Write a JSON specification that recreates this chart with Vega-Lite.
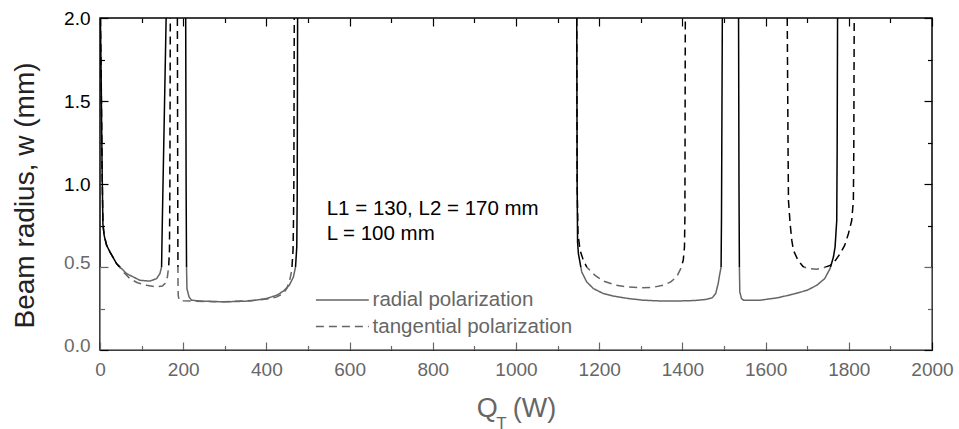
{
  "$schema": "https://vega.github.io/schema/vega-lite/v6.json",
  "width": 832,
  "height": 332,
  "autosize": "none",
  "padding": {"left": 100, "top": 18, "right": 27, "bottom": 79},
  "background": "white",
  "config": {"view": {"stroke": "#000", "strokeWidth": 1.5}, "font": "Liberation Sans"},
  "datasets": {
    "curves": [
      {"pol": "radial polarization", "seg": 1, "q": 1, "w": 2.0},
      {"pol": "radial polarization", "seg": 1, "q": 3, "w": 1.6},
      {"pol": "radial polarization", "seg": 1, "q": 5, "w": 1.1},
      {"pol": "radial polarization", "seg": 1, "q": 7, "w": 0.76},
      {"pol": "radial polarization", "seg": 1, "q": 10, "w": 0.69},
      {"pol": "radial polarization", "seg": 1, "q": 16, "w": 0.63},
      {"pol": "radial polarization", "seg": 1, "q": 24, "w": 0.59},
      {"pol": "radial polarization", "seg": 1, "q": 40, "w": 0.52},
      {"pol": "radial polarization", "seg": 1, "q": 64, "w": 0.46},
      {"pol": "radial polarization", "seg": 1, "q": 96, "w": 0.42},
      {"pol": "radial polarization", "seg": 1, "q": 120, "w": 0.415},
      {"pol": "radial polarization", "seg": 1, "q": 136, "w": 0.43},
      {"pol": "radial polarization", "seg": 1, "q": 144, "w": 0.46},
      {"pol": "radial polarization", "seg": 1, "q": 148, "w": 0.5},
      {"pol": "radial polarization", "seg": 1, "q": 150, "w": 0.8},
      {"pol": "radial polarization", "seg": 1, "q": 153, "w": 1.2},
      {"pol": "radial polarization", "seg": 1, "q": 156, "w": 1.6},
      {"pol": "radial polarization", "seg": 1, "q": 159, "w": 2.0},
      {"pol": "radial polarization", "seg": 2, "q": 206, "w": 2.0},
      {"pol": "radial polarization", "seg": 2, "q": 207, "w": 1.0},
      {"pol": "radial polarization", "seg": 2, "q": 208, "w": 0.5},
      {"pol": "radial polarization", "seg": 2, "q": 209, "w": 0.37},
      {"pol": "radial polarization", "seg": 2, "q": 214, "w": 0.32},
      {"pol": "radial polarization", "seg": 2, "q": 220, "w": 0.3},
      {"pol": "radial polarization", "seg": 2, "q": 240, "w": 0.295},
      {"pol": "radial polarization", "seg": 2, "q": 300, "w": 0.29},
      {"pol": "radial polarization", "seg": 2, "q": 360, "w": 0.295},
      {"pol": "radial polarization", "seg": 2, "q": 400, "w": 0.31},
      {"pol": "radial polarization", "seg": 2, "q": 425, "w": 0.33},
      {"pol": "radial polarization", "seg": 2, "q": 441, "w": 0.355},
      {"pol": "radial polarization", "seg": 2, "q": 455, "w": 0.39},
      {"pol": "radial polarization", "seg": 2, "q": 465, "w": 0.44},
      {"pol": "radial polarization", "seg": 2, "q": 470, "w": 0.5},
      {"pol": "radial polarization", "seg": 2, "q": 473, "w": 0.62},
      {"pol": "radial polarization", "seg": 2, "q": 474, "w": 0.9},
      {"pol": "radial polarization", "seg": 2, "q": 475, "w": 2.0},
      {"pol": "radial polarization", "seg": 3, "q": 1146, "w": 2.0},
      {"pol": "radial polarization", "seg": 3, "q": 1147, "w": 1.0},
      {"pol": "radial polarization", "seg": 3, "q": 1148, "w": 0.65},
      {"pol": "radial polarization", "seg": 3, "q": 1150, "w": 0.58},
      {"pol": "radial polarization", "seg": 3, "q": 1158, "w": 0.47},
      {"pol": "radial polarization", "seg": 3, "q": 1170, "w": 0.41},
      {"pol": "radial polarization", "seg": 3, "q": 1186, "w": 0.37},
      {"pol": "radial polarization", "seg": 3, "q": 1210, "w": 0.34},
      {"pol": "radial polarization", "seg": 3, "q": 1234, "w": 0.325},
      {"pol": "radial polarization", "seg": 3, "q": 1270, "w": 0.31},
      {"pol": "radial polarization", "seg": 3, "q": 1306, "w": 0.3},
      {"pol": "radial polarization", "seg": 3, "q": 1350, "w": 0.295},
      {"pol": "radial polarization", "seg": 3, "q": 1387, "w": 0.295},
      {"pol": "radial polarization", "seg": 3, "q": 1430, "w": 0.298},
      {"pol": "radial polarization", "seg": 3, "q": 1458, "w": 0.305},
      {"pol": "radial polarization", "seg": 3, "q": 1472, "w": 0.315},
      {"pol": "radial polarization", "seg": 3, "q": 1480, "w": 0.34},
      {"pol": "radial polarization", "seg": 3, "q": 1486, "w": 0.4},
      {"pol": "radial polarization", "seg": 3, "q": 1490, "w": 0.46},
      {"pol": "radial polarization", "seg": 3, "q": 1493, "w": 0.5},
      {"pol": "radial polarization", "seg": 3, "q": 1494, "w": 0.8},
      {"pol": "radial polarization", "seg": 3, "q": 1496, "w": 2.0},
      {"pol": "radial polarization", "seg": 4, "q": 1535, "w": 2.0},
      {"pol": "radial polarization", "seg": 4, "q": 1536, "w": 1.0},
      {"pol": "radial polarization", "seg": 4, "q": 1537, "w": 0.5},
      {"pol": "radial polarization", "seg": 4, "q": 1538, "w": 0.35},
      {"pol": "radial polarization", "seg": 4, "q": 1542, "w": 0.31},
      {"pol": "radial polarization", "seg": 4, "q": 1547, "w": 0.3},
      {"pol": "radial polarization", "seg": 4, "q": 1587, "w": 0.3},
      {"pol": "radial polarization", "seg": 4, "q": 1630, "w": 0.315},
      {"pol": "radial polarization", "seg": 4, "q": 1667, "w": 0.337},
      {"pol": "radial polarization", "seg": 4, "q": 1700, "w": 0.36},
      {"pol": "radial polarization", "seg": 4, "q": 1723, "w": 0.39},
      {"pol": "radial polarization", "seg": 4, "q": 1742, "w": 0.43},
      {"pol": "radial polarization", "seg": 4, "q": 1755, "w": 0.49},
      {"pol": "radial polarization", "seg": 4, "q": 1763, "w": 0.56},
      {"pol": "radial polarization", "seg": 4, "q": 1767, "w": 0.62},
      {"pol": "radial polarization", "seg": 4, "q": 1771, "w": 0.78},
      {"pol": "radial polarization", "seg": 4, "q": 1772, "w": 1.2},
      {"pol": "radial polarization", "seg": 4, "q": 1773, "w": 2.0},
      {"pol": "tangential polarization", "seg": 1, "q": 1, "w": 2.0},
      {"pol": "tangential polarization", "seg": 1, "q": 3, "w": 1.6},
      {"pol": "tangential polarization", "seg": 1, "q": 5, "w": 1.1},
      {"pol": "tangential polarization", "seg": 1, "q": 7, "w": 0.76},
      {"pol": "tangential polarization", "seg": 1, "q": 10, "w": 0.69},
      {"pol": "tangential polarization", "seg": 1, "q": 16, "w": 0.63},
      {"pol": "tangential polarization", "seg": 1, "q": 24, "w": 0.59},
      {"pol": "tangential polarization", "seg": 1, "q": 40, "w": 0.52},
      {"pol": "tangential polarization", "seg": 1, "q": 56, "w": 0.47},
      {"pol": "tangential polarization", "seg": 1, "q": 72, "w": 0.43},
      {"pol": "tangential polarization", "seg": 1, "q": 90, "w": 0.405},
      {"pol": "tangential polarization", "seg": 1, "q": 112, "w": 0.39},
      {"pol": "tangential polarization", "seg": 1, "q": 136, "w": 0.38},
      {"pol": "tangential polarization", "seg": 1, "q": 150, "w": 0.385},
      {"pol": "tangential polarization", "seg": 1, "q": 156, "w": 0.4},
      {"pol": "tangential polarization", "seg": 1, "q": 162, "w": 0.44},
      {"pol": "tangential polarization", "seg": 1, "q": 165, "w": 0.5},
      {"pol": "tangential polarization", "seg": 1, "q": 167, "w": 0.6},
      {"pol": "tangential polarization", "seg": 1, "q": 168, "w": 1.0},
      {"pol": "tangential polarization", "seg": 1, "q": 169, "w": 2.0},
      {"pol": "tangential polarization", "seg": 2, "q": 186, "w": 2.0},
      {"pol": "tangential polarization", "seg": 2, "q": 187, "w": 0.8},
      {"pol": "tangential polarization", "seg": 2, "q": 187.5, "w": 0.4},
      {"pol": "tangential polarization", "seg": 2, "q": 188, "w": 0.33},
      {"pol": "tangential polarization", "seg": 2, "q": 190, "w": 0.3},
      {"pol": "tangential polarization", "seg": 2, "q": 200, "w": 0.297},
      {"pol": "tangential polarization", "seg": 2, "q": 230, "w": 0.293},
      {"pol": "tangential polarization", "seg": 2, "q": 300, "w": 0.29},
      {"pol": "tangential polarization", "seg": 2, "q": 380, "w": 0.3},
      {"pol": "tangential polarization", "seg": 2, "q": 410, "w": 0.31},
      {"pol": "tangential polarization", "seg": 2, "q": 425, "w": 0.32},
      {"pol": "tangential polarization", "seg": 2, "q": 440, "w": 0.34},
      {"pol": "tangential polarization", "seg": 2, "q": 449, "w": 0.37},
      {"pol": "tangential polarization", "seg": 2, "q": 456, "w": 0.42},
      {"pol": "tangential polarization", "seg": 2, "q": 461, "w": 0.48},
      {"pol": "tangential polarization", "seg": 2, "q": 464, "w": 0.6},
      {"pol": "tangential polarization", "seg": 2, "q": 465, "w": 0.75},
      {"pol": "tangential polarization", "seg": 2, "q": 466, "w": 1.0},
      {"pol": "tangential polarization", "seg": 2, "q": 467, "w": 2.0},
      {"pol": "tangential polarization", "seg": 3, "q": 1146, "w": 2.0},
      {"pol": "tangential polarization", "seg": 3, "q": 1147, "w": 1.0},
      {"pol": "tangential polarization", "seg": 3, "q": 1149, "w": 0.7},
      {"pol": "tangential polarization", "seg": 3, "q": 1154, "w": 0.6},
      {"pol": "tangential polarization", "seg": 3, "q": 1162, "w": 0.54},
      {"pol": "tangential polarization", "seg": 3, "q": 1170, "w": 0.5},
      {"pol": "tangential polarization", "seg": 3, "q": 1190, "w": 0.45},
      {"pol": "tangential polarization", "seg": 3, "q": 1210, "w": 0.415},
      {"pol": "tangential polarization", "seg": 3, "q": 1240, "w": 0.39},
      {"pol": "tangential polarization", "seg": 3, "q": 1266, "w": 0.38},
      {"pol": "tangential polarization", "seg": 3, "q": 1300, "w": 0.375},
      {"pol": "tangential polarization", "seg": 3, "q": 1330, "w": 0.378},
      {"pol": "tangential polarization", "seg": 3, "q": 1354, "w": 0.39},
      {"pol": "tangential polarization", "seg": 3, "q": 1372, "w": 0.41},
      {"pol": "tangential polarization", "seg": 3, "q": 1386, "w": 0.44},
      {"pol": "tangential polarization", "seg": 3, "q": 1396, "w": 0.49},
      {"pol": "tangential polarization", "seg": 3, "q": 1402, "w": 0.54},
      {"pol": "tangential polarization", "seg": 3, "q": 1405, "w": 0.62},
      {"pol": "tangential polarization", "seg": 3, "q": 1406, "w": 0.8},
      {"pol": "tangential polarization", "seg": 3, "q": 1407, "w": 2.0},
      {"pol": "tangential polarization", "seg": 4, "q": 1652, "w": 2.0},
      {"pol": "tangential polarization", "seg": 4, "q": 1654, "w": 1.2},
      {"pol": "tangential polarization", "seg": 4, "q": 1655, "w": 0.9},
      {"pol": "tangential polarization", "seg": 4, "q": 1659, "w": 0.76},
      {"pol": "tangential polarization", "seg": 4, "q": 1663, "w": 0.66},
      {"pol": "tangential polarization", "seg": 4, "q": 1667, "w": 0.6},
      {"pol": "tangential polarization", "seg": 4, "q": 1678, "w": 0.54},
      {"pol": "tangential polarization", "seg": 4, "q": 1691, "w": 0.5},
      {"pol": "tangential polarization", "seg": 4, "q": 1705, "w": 0.49},
      {"pol": "tangential polarization", "seg": 4, "q": 1723, "w": 0.487},
      {"pol": "tangential polarization", "seg": 4, "q": 1740, "w": 0.495},
      {"pol": "tangential polarization", "seg": 4, "q": 1755, "w": 0.51},
      {"pol": "tangential polarization", "seg": 4, "q": 1768, "w": 0.54},
      {"pol": "tangential polarization", "seg": 4, "q": 1779, "w": 0.58},
      {"pol": "tangential polarization", "seg": 4, "q": 1790, "w": 0.63},
      {"pol": "tangential polarization", "seg": 4, "q": 1799, "w": 0.7},
      {"pol": "tangential polarization", "seg": 4, "q": 1807, "w": 0.78},
      {"pol": "tangential polarization", "seg": 4, "q": 1811, "w": 0.9},
      {"pol": "tangential polarization", "seg": 4, "q": 1812, "w": 1.2},
      {"pol": "tangential polarization", "seg": 4, "q": 1813, "w": 2.0}
    ]
  },
  "layer": [
    {
      "data": {"name": "curves"},
      "mark": {"type": "line", "color": "#000", "strokeWidth": 1.5, "clip": true},
      "encoding": {
        "x": {
          "field": "q", "type": "quantitative",
          "scale": {"domain": [0, 2000], "nice": false, "zero": false},
          "axis": {
            "orient": "bottom", "offset": -8, "domain": false,
            "values": [0,200,400,600,800,1000,1200,1400,1600,1800,2000],
            "format": "d",
            "tickSize": 8, "tickColor": "#000", "tickWidth": 1.2,
            "labelPadding": 10, "labelFontSize": 19, "labelColor": "#666", "labelFont": "Liberation Sans",
            "labelFlush": false, "labelOverlap": false,
            "grid": false,
            "title": "Q\u00a0\u00a0(W)", "titleFontSize": 27, "titleColor": "#666", "titleFontWeight": "normal",
            "titleFont": "Liberation Sans", "titlePadding": 16
          }
        },
        "y": {
          "field": "w", "type": "quantitative",
          "scale": {"domain": [0, 2], "nice": false},
          "axis": {
            "orient": "left", "offset": -8, "domain": false,
            "values": [0,0.5,1,1.5,2],
            "format": ".1f",
            "tickSize": 8, "tickColor": "#000", "tickWidth": 1.2,
            "labelPadding": 10, "labelFontSize": 19, "labelFont": "Liberation Sans",
            "labelColor": {"condition": {"test": "datum.value <= 0.5", "value": "#6a6a6a"}, "value": "#000"},
            "labelOffset": {"condition": {"test": "datum.value <= 0.5", "value": -5}, "value": 0},
            "labelFlush": false, "labelOverlap": false,
            "grid": false,
            "title": "Beam radius, w (mm)", "titleFontSize": 28, "titleColor": "#222", "titleFontWeight": "normal",
            "titleFont": "Liberation Sans", "titleX": -75, "titleY": 177, "titleAngle": -90,
            "titleAlign": "center", "titleBaseline": "alphabetic"
          }
        },
        "detail": {"field": "seg", "type": "nominal"},
        "strokeDash": {
          "field": "pol", "type": "nominal",
          "scale": {"domain": ["radial polarization", "tangential polarization"], "range": [[1, 0], [8, 5]]},
          "legend": {
            "orient": "none", "legendX": 232.1, "legendY": 271.75,
            "title": null, "padding": 0,
            "symbolType": "M-4,0H4", "symbolSize": 175,
            "symbolStrokeColor": "#666", "symbolStrokeWidth": 1.5,
            "labelFontSize": 20.5, "labelColor": "#666", "labelFont": "Liberation Sans",
            "labelOffset": 20, "rowPadding": 5.5, "labelLimit": 400
          }
        }
      }
    },
    {
      "data": {"values": [{}]},
      "mark": {"type": "rect", "fill": "white", "opacity": 0.4},
      "encoding": {
        "x": {
          "datum": 0, "type": "quantitative",
          "scale": {"domain": [0, 2000], "nice": false, "zero": false},
          "axis": {
            "orient": "top", "offset": -8, "domain": false,
            "values": [0,200,400,600,800,1000,1200,1400,1600,1800,2000],
            "labels": false, "title": null, "grid": false,
            "tickSize": 8, "tickColor": "#000", "tickWidth": 1.2
          }
        },
        "x2": {"datum": 2000},
        "y": {
          "datum": 0, "type": "quantitative",
          "scale": {"domain": [0, 2], "nice": false},
          "axis": {
            "orient": "right", "offset": -8, "domain": false,
            "values": [0,0.5,1,1.5,2],
            "labels": false, "title": null, "grid": false,
            "tickSize": 8, "tickColor": "#000", "tickWidth": 1.2
          }
        },
        "y2": {"datum": 0.5}
      }
    },
    {
      "data": {"values": [{"note": "parameters"}]},
      "mark": {"type": "text", "align": "left", "baseline": "alphabetic", "fontSize": 20.5, "lineHeight": 25, "color": "#000", "font": "Liberation Sans"},
      "encoding": {
        "x": {
          "datum": 545, "type": "quantitative",
          "scale": {"domain": [0, 2000], "nice": false, "zero": false},
          "axis": {
            "orient": "bottom", "offset": -4.5, "domain": false, "labels": false, "grid": false,
            "values": [100,300,500,700,900,1100,1300,1500,1700,1900],
            "tickSize": 4.5, "tickColor": "#000", "tickWidth": 1.2,
            "title": "T", "titleFontSize": 17, "titleColor": "#666", "titleFontWeight": "normal",
            "titleFont": "Liberation Sans", "titleX": 401, "titleY": 69.9, "titleAlign": "center", "titleBaseline": "top"
          }
        },
        "y": {
          "datum": 0.813, "type": "quantitative",
          "scale": {"domain": [0, 2], "nice": false},
          "axis": {
            "orient": "left", "offset": -4.5, "domain": false, "labels": false, "grid": false, "title": null,
            "values": [0.25,0.75,1.25,1.75],
            "tickSize": 4.5, "tickColor": "#000", "tickWidth": 1.2
          }
        },
        "text": {"value": ["L1 = 130, L2 = 170 mm", "L = 100 mm"]}
      }
    },
    {
      "data": {"values": [{}]},
      "mark": {"type": "point", "opacity": 0},
      "encoding": {
        "x": {
          "datum": 0, "type": "quantitative",
          "scale": {"domain": [0, 2000], "nice": false, "zero": false},
          "axis": {
            "orient": "top", "offset": -4.5, "domain": false, "labels": false, "grid": false, "title": null,
            "values": [100,300,500,700,900,1100,1300,1500,1700,1900],
            "tickSize": 4.5, "tickColor": "#000", "tickWidth": 1.2
          }
        },
        "y": {
          "datum": 0, "type": "quantitative",
          "scale": {"domain": [0, 2], "nice": false},
          "axis": {
            "orient": "right", "offset": -4.5, "domain": false, "labels": false, "grid": false, "title": null,
            "values": [0.25,0.75,1.25,1.75],
            "tickSize": 4.5, "tickColor": "#000", "tickWidth": 1.2
          }
        }
      }
    }
  ],
  "resolve": {"axis": {"x": "independent", "y": "independent"}}
}
